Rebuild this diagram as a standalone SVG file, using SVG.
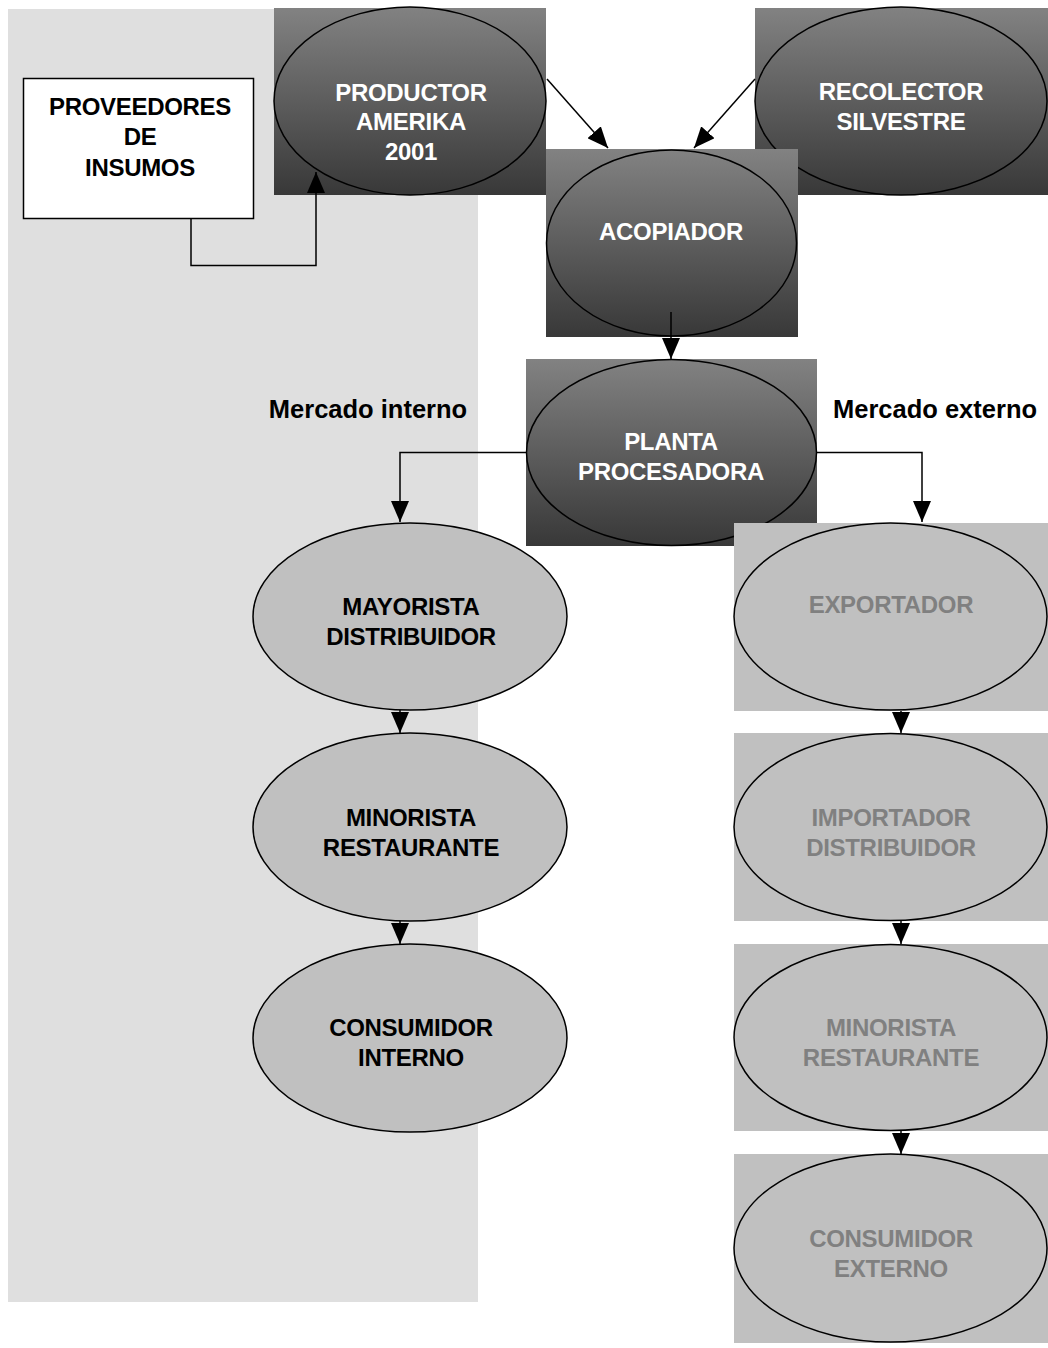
<svg xmlns="http://www.w3.org/2000/svg" width="1048" height="1348" viewBox="0 0 1048 1348">
  <defs>
    <linearGradient id="dark" x1="0" y1="0" x2="0" y2="1">
      <stop offset="0" stop-color="#828282"/>
      <stop offset="1" stop-color="#383838"/>
    </linearGradient>
    <marker id="arrow" markerUnits="userSpaceOnUse" markerWidth="21" markerHeight="18" viewBox="0 0 21 18" refX="21" refY="9" orient="auto">
      <path d="M0,0 L21,9 L0,18 z" fill="#000"/>
    </marker>
    <style>
      text { font-family: "Liberation Sans", Arial, sans-serif; font-weight: bold; font-size: 24px; text-anchor: middle; letter-spacing: -0.3px; }
      .label { font-size: 25.5px; letter-spacing: 0; }
      .dark-box { fill: url(#dark); }
      .dark-ell { fill: url(#dark); stroke: #000; stroke-width: 1.5; }
      .light-box { fill: #c0c0c0; }
      .light-ell { fill: #c0c0c0; stroke: #000; stroke-width: 1.5; }
      .t-white { fill: #ffffff; }
      .t-black { fill: #000000; }
      .t-gray { fill: #808080; }
      .link { fill: none; stroke: #000; stroke-width: 1.5; marker-end: url(#arrow); }
    </style>
  </defs>

  <rect width="1048" height="1348" fill="#ffffff"/>

  <!-- internal market panel -->
  <rect id="panel-interno" x="8" y="9" width="470" height="1293" fill="#dfdfdf"/>

  <g id="proveedores">
    <rect x="23.5" y="78.5" width="230" height="140" fill="#ffffff" stroke="#000" stroke-width="1.5"/>
    <text class="t-black" x="140" y="115">PROVEEDORES</text>
    <text class="t-black" x="140" y="145">DE</text>
    <text class="t-black" x="140" y="176">INSUMOS</text>
  </g>

  <g id="productor">
    <rect class="dark-box" x="274" y="8" width="272" height="187"/>
    <ellipse class="dark-ell" cx="410" cy="101" rx="136" ry="94"/>
    <text class="t-white" x="411" y="101">PRODUCTOR</text>
    <text class="t-white" x="411" y="130">AMERIKA</text>
    <text class="t-white" x="411" y="160">2001</text>
  </g>

  <g id="recolector">
    <rect class="dark-box" x="755" y="8" width="293" height="187"/>
    <ellipse class="dark-ell" cx="901" cy="101" rx="146" ry="94"/>
    <text class="t-white" x="901" y="100">RECOLECTOR</text>
    <text class="t-white" x="901" y="130">SILVESTRE</text>
  </g>

  <g id="acopiador">
    <rect class="dark-box" x="546" y="149" width="252" height="188"/>
    <ellipse class="dark-ell" cx="671.5" cy="243" rx="125" ry="93"/>
    <text class="t-white" x="671" y="240">ACOPIADOR</text>
  </g>

  <g id="planta">
    <rect class="dark-box" x="526" y="359" width="291" height="187"/>
    <ellipse class="dark-ell" cx="671.5" cy="452.5" rx="145" ry="93"/>
    <text class="t-white" x="671" y="450">PLANTA</text>
    <text class="t-white" x="671" y="480">PROCESADORA</text>
  </g>

  <g id="etiquetas">
    <text class="t-black label" x="368" y="418">Mercado interno</text>
    <text class="t-black label" x="935" y="418">Mercado externo</text>
  </g>

  <g id="mayorista">
    <ellipse class="light-ell" cx="410" cy="616.5" rx="157" ry="93.5"/>
    <text class="t-black" x="411" y="615">MAYORISTA</text>
    <text class="t-black" x="411" y="645">DISTRIBUIDOR</text>
  </g>

  <g id="minorista-interno">
    <ellipse class="light-ell" cx="410" cy="827" rx="157" ry="94"/>
    <text class="t-black" x="411" y="826">MINORISTA</text>
    <text class="t-black" x="411" y="856">RESTAURANTE</text>
  </g>

  <g id="consumidor-interno">
    <ellipse class="light-ell" cx="410" cy="1038" rx="157" ry="94"/>
    <text class="t-black" x="411" y="1036">CONSUMIDOR</text>
    <text class="t-black" x="411" y="1066">INTERNO</text>
  </g>

  <g id="exportador">
    <rect class="light-box" x="734" y="523" width="314" height="188"/>
    <ellipse class="light-ell" cx="890.5" cy="616.5" rx="156.5" ry="93.5"/>
    <text class="t-gray" x="891" y="613">EXPORTADOR</text>
  </g>

  <g id="importador">
    <rect class="light-box" x="734" y="733" width="314" height="188"/>
    <ellipse class="light-ell" cx="890.5" cy="827" rx="156.5" ry="93.5"/>
    <text class="t-gray" x="891" y="826">IMPORTADOR</text>
    <text class="t-gray" x="891" y="856">DISTRIBUIDOR</text>
  </g>

  <g id="minorista-externo">
    <rect class="light-box" x="734" y="944" width="314" height="187"/>
    <ellipse class="light-ell" cx="890.5" cy="1037.5" rx="156.5" ry="93"/>
    <text class="t-gray" x="891" y="1036">MINORISTA</text>
    <text class="t-gray" x="891" y="1066">RESTAURANTE</text>
  </g>

  <g id="consumidor-externo">
    <rect class="light-box" x="734" y="1154" width="314" height="189"/>
    <ellipse class="light-ell" cx="890.5" cy="1248" rx="156.5" ry="94"/>
    <text class="t-gray" x="891" y="1247">CONSUMIDOR</text>
    <text class="t-gray" x="891" y="1277">EXTERNO</text>
  </g>

  <g id="connectors">
    <path class="link" d="M191,219 V265.5 H316 V172"/>
    <path class="link" d="M547,79 L608,148"/>
    <path class="link" d="M755,79 L694,148"/>
    <path class="link" d="M671,312 V359"/>
    <path class="link" d="M526,452.5 H400 V522"/>
    <path class="link" d="M817,452.5 H922 V522"/>
    <path class="link" d="M400,710 V733"/>
    <path class="link" d="M400,921 V944"/>
    <path class="link" d="M901,711 V733"/>
    <path class="link" d="M901,921 V944"/>
    <path class="link" d="M901,1131 V1154"/>
  </g>
</svg>
